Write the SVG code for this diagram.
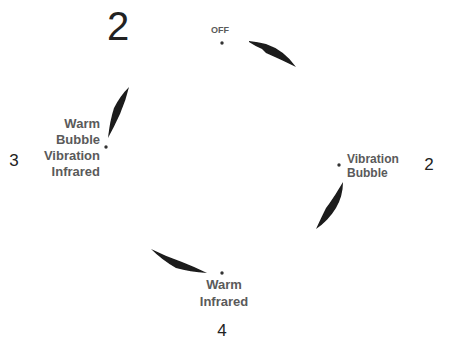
<svg xmlns="http://www.w3.org/2000/svg" width="449" height="350" viewBox="0 0 449 350">
<defs>
<filter id="soft" x="-20%" y="-20%" width="140%" height="140%"><feGaussianBlur stdDeviation="0.7"/></filter>
</defs>
<style>
.lbl{font-family:"Liberation Sans",Arial,sans-serif;font-size:13px;font-weight:bold;fill:#5a5a5a}
.small{font-size:9px}
.mid{font-size:12px}
.num{font-family:"Liberation Sans",Arial,sans-serif;font-size:17px;fill:#222}
.big{font-family:"Liberation Sans",Arial,sans-serif;font-size:40px;fill:#222}
.dot{fill:#333}
.stroke{fill:#1a1a1a;filter:url(#soft)}
</style>
<rect width="449" height="350" fill="#fff"/>
<text class="big" x="118" y="40" text-anchor="middle">2</text>
<g id="connectors">
<path class="stroke" d="M249,41 Q258,42 266,44 Q284,50 296,67 Q282,60 266,53 L262,49 Q255,46 249,42 Z"/>
<path class="stroke" d="M343,182 Q343,196 336,208 Q328,221 316,229 Q321,218 326,208 L329,204 Q336,194 343,182 Z"/>
<path class="stroke" d="M151,249 Q165,256 182,262 Q195,267 207,273 Q190,272 176,268 Q162,260 151,249 Z"/>
<path class="stroke" d="M129,87 Q126,100 120,114 Q114,127 108,138 Q110,120 114,108 Q120,96 129,87 Z"/>
</g>
<g id="node-off">
<circle class="dot" cx="222" cy="43" r="1.7"/>
<text class="lbl small" x="220" y="33" text-anchor="middle">OFF</text>
</g>
<g id="node-right">
<circle class="dot" cx="339" cy="165" r="1.7"/>
<text class="lbl mid" x="347" y="163">Vibration</text>
<text class="lbl mid" x="347" y="177">Bubble</text>
<text class="num" x="429" y="170" text-anchor="middle">2</text>
</g>
<g id="node-bottom">
<circle class="dot" cx="222" cy="273" r="1.7"/>
<text class="lbl" x="224" y="289" text-anchor="middle">Warm</text>
<text class="lbl" x="224" y="306" text-anchor="middle">Infrared</text>
<text class="num" x="222" y="336" text-anchor="middle">4</text>
</g>
<g id="node-left">
<circle class="dot" cx="106" cy="147" r="1.7"/>
<text class="lbl" x="100" y="128" text-anchor="end">Warm</text>
<text class="lbl" x="100" y="144" text-anchor="end">Bubble</text>
<text class="lbl" x="100" y="160" text-anchor="end">Vibration</text>
<text class="lbl" x="100" y="176" text-anchor="end">Infrared</text>
<text class="num" x="14" y="166" text-anchor="middle">3</text>
</g>
</svg>
